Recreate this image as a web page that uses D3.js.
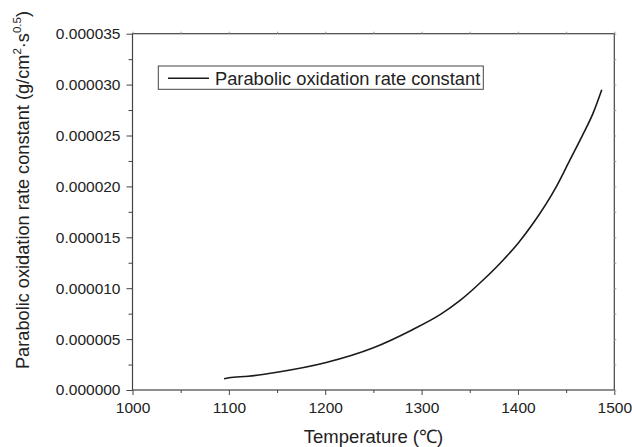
<!DOCTYPE html>
<html><head><meta charset="utf-8">
<script src="https://cdn.jsdelivr.net/npm/d3@7"></script>
<style>body{margin:0;background:#fff}text{font-family:"Liberation Sans",Arial,sans-serif;fill:#222}</style>
</head><body>
<svg id="c" width="632" height="447"></svg>
<script>
const temperature = [1095,1100,1120,1150,1200,1250,1290,1320,1340,1365,1385,1400,1416,1440,1454,1468,1478,1487];
const rateConstant = [1.1e-6,1.2e-6,1.35e-6,1.75e-6,2.68e-6,4.15e-6,5.9e-6,7.45e-6,8.8e-6,10.9e-6,12.8e-6,14.4e-6,16.4e-6,20.0e-6,22.6e-6,25.2e-6,27.2e-6,29.5e-6];
const xTicks = [1000,1100,1200,1300,1400,1500];
const yTicks = [0,0.000005,0.00001,0.000015,0.00002,0.000025,0.00003,0.000035];
const seriesName = "Parabolic oxidation rate constant";

const svg = d3.select("#c");
const L=132.5,R=614.3,T=33.7,B=390;
const x = d3.scaleLinear().domain([1000,1500]).range([L,R]);
const y = d3.scaleLinear().domain([0,0.000035]).range([B,T]);
const axCol="#444";

svg.append("rect").attr("x",L).attr("y",T).attr("width",R-L).attr("height",B-T)
  .attr("fill","none").attr("stroke",axCol).attr("stroke-width",1.2);

const xMinor = d3.range(1050,1500,100);
const yMinor = d3.range(0.0000025,0.000035,0.000005);

const gx = svg.append("g").attr("transform",`translate(0,${B})`)
  .call(d3.axisBottom(x).tickValues(xTicks).tickSize(5).tickPadding(7).tickFormat(d3.format("d")));
const gxm = svg.append("g").attr("transform",`translate(0,${B})`)
  .call(d3.axisBottom(x).tickValues(xMinor).tickSize(3).tickFormat(""));
const gy = svg.append("g").attr("transform",`translate(${L},0)`)
  .call(d3.axisLeft(y).tickValues(yTicks).tickSize(6).tickPadding(6).tickFormat(d3.format(".6f")));
const gym = svg.append("g").attr("transform",`translate(${L},0)`)
  .call(d3.axisLeft(y).tickValues(yMinor).tickSize(4).tickFormat(""));
const gt = svg.append("g").attr("transform",`translate(0,${T})`)
  .call(d3.axisTop(x).tickValues(xTicks.concat(xMinor)).tickSize(2).tickFormat(""));
const gr = svg.append("g").attr("transform",`translate(${R},0)`)
  .call(d3.axisRight(y).tickValues(yTicks.concat(yMinor)).tickSize(2).tickFormat(""));
[gx,gxm,gy,gym,gt,gr].forEach(g=>{
  g.select(".domain").remove();
  g.selectAll("line").attr("stroke",axCol);
  g.selectAll("text").attr("font-size",15.5).style("fill","#222");
});
gt.selectAll("line").attr("stroke","#999");
gr.selectAll("line").attr("stroke","#999");

svg.append("path").datum(temperature.map((t,i)=>[t,rateConstant[i]]))
  .attr("fill","none").attr("stroke","#1a1a1a").attr("stroke-width",1.6)
  .attr("d",d3.line().x(d=>x(d[0])).y(d=>y(d[1])).curve(d3.curveMonotoneX));

svg.append("rect").attr("x",158.3).attr("y",66).attr("width",325).attr("height",23.3)
  .attr("fill","#fff").attr("stroke",axCol).attr("stroke-width",1);
svg.append("line").attr("x1",168).attr("x2",209).attr("y1",78.3).attr("y2",78.3)
  .attr("stroke","#1a1a1a").attr("stroke-width",1.6);
svg.append("text").attr("x",215).attr("y",85).attr("font-size",18.3).text(seriesName);

svg.append("text").attr("x",373.5).attr("y",443).attr("text-anchor","middle")
  .attr("font-size",18.5).text("Temperature (℃)");
const yt = svg.append("text").attr("transform",`translate(29,190) rotate(-90)`)
  .attr("text-anchor","middle").attr("font-size",18.2);
yt.append("tspan").text("Parabolic oxidation rate constant (g/cm");
yt.append("tspan").attr("font-size",11.5).attr("dy",-8).text("2");
yt.append("tspan").attr("dy",8).text("·s");
yt.append("tspan").attr("font-size",11.5).attr("dy",-8).text("0.5");
yt.append("tspan").attr("dy",8).text(")");
</script>
</body></html>
